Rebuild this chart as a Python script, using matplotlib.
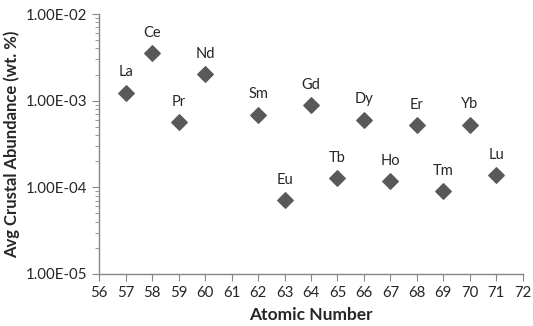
import numpy as np
import matplotlib.pyplot as plt
from matplotlib.ticker import LogLocator, FuncFormatter, NullFormatter

# Terre rare: numero atomico e abbondanza media nella crosta (wt. %)
elements = ['La', 'Ce', 'Pr', 'Nd', 'Sm', 'Eu', 'Gd', 'Tb', 'Dy', 'Ho', 'Er', 'Tm', 'Yb', 'Lu']
atomic_number = [57, 58, 59, 60, 62, 63, 64, 65, 66, 67, 68, 69, 70, 71]
abundance = [1.24e-3, 3.56e-3, 5.7e-4, 2.04e-3, 6.9e-4, 7.1e-5, 8.8e-4,
             1.27e-4, 6.05e-4, 1.17e-4, 5.2e-4, 9.0e-5, 5.3e-4, 1.37e-4]

plt.rcParams['font.family'] = ['Lato', 'DejaVu Sans']
axis_grey = '#868686'
text_col = '#262626'

fig = plt.figure(figsize=(5.33, 3.26), dpi=100)
ax = fig.add_axes([0.186, 0.160, 0.795, 0.797])

ax.scatter(atomic_number, abundance, marker='D', s=62, color='#595959', zorder=3)
for el, x, y in zip(elements, atomic_number, abundance):
    ax.annotate(el, (x, y), xytext=(0, 14.5), textcoords='offset points',
                ha='center', va='center', fontsize=10.5, color=text_col)

ax.set_yscale('log')
ax.set_ylim(1e-5, 1e-2)
ax.set_xlim(56, 72)
ax.set_xticks(np.arange(56, 73, 1))
ax.yaxis.set_major_locator(LogLocator(base=10, numticks=10))
ax.yaxis.set_minor_locator(LogLocator(base=10, subs=np.arange(2, 10), numticks=20))
ax.yaxis.set_minor_formatter(NullFormatter())
ax.yaxis.set_major_formatter(FuncFormatter(lambda v, p: f'{v:.2E}'))

for side in ['top', 'right']:
    ax.spines[side].set_visible(False)
for side in ['left', 'bottom']:
    ax.spines[side].set_color(axis_grey)
    ax.spines[side].set_linewidth(1.0)

ax.tick_params(axis='both', which='major', direction='out', length=5, color=axis_grey,
               labelsize=10.8, labelcolor=text_col)
ax.tick_params(axis='y', which='minor', direction='out', length=3, color=axis_grey)

ax.set_xlabel('Atomic Number', fontsize=12.5, fontweight='bold', color=text_col, labelpad=5)
ax.set_ylabel('Avg Crustal Abundance (wt. %)', fontsize=12, fontweight='bold', color=text_col, labelpad=4)

fig.savefig('out.png', dpi=100)
